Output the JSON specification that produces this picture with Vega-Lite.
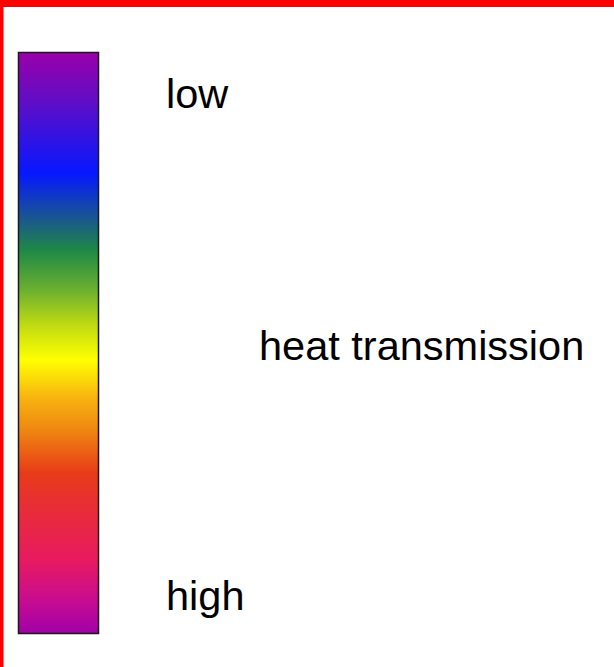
{
  "$schema": "https://vega.github.io/schema/vega-lite/v6.json",
  "autosize": "none",
  "width": 614,
  "height": 667,
  "padding": 0,
  "background": "white",
  "config": {"view": {"stroke": null}},
  "datasets": {
    "bar": [{"x": 18.5, "x2": 98.5, "y": 52.5, "y2": 633.5}],
    "labels": [
      {"label": "low", "x": 166, "y": 96},
      {"label": "heat transmission", "x": 259, "y": 348},
      {"label": "high", "x": 166, "y": 598}
    ],
    "hborder": [{"x": 0, "x2": 614, "y": 3.5}],
    "vborder": [{"x": 1.75, "y": 0, "y2": 667}]
  },
  "layer": [
    {
      "data": {"name": "bar"},
      "mark": {
        "type": "rect",
        "stroke": "#1a1a1a",
        "strokeWidth": 1.5,
        "fill": {
          "gradient": "linear",
          "x1": 0, "y1": 0, "x2": 0, "y2": 1,
          "stops": [
            {"offset": 0.0, "color": "#9a00aa"},
            {"offset": 0.09, "color": "#5c0ec8"},
            {"offset": 0.208, "color": "#0618ff"},
            {"offset": 0.29, "color": "#1a5a8a"},
            {"offset": 0.342, "color": "#1f8a44"},
            {"offset": 0.409, "color": "#6cb030"},
            {"offset": 0.471, "color": "#c2dc12"},
            {"offset": 0.529, "color": "#ffff00"},
            {"offset": 0.598, "color": "#f7b010"},
            {"offset": 0.644, "color": "#f08c10"},
            {"offset": 0.723, "color": "#e83c18"},
            {"offset": 0.77, "color": "#e83030"},
            {"offset": 0.873, "color": "#e81a60"},
            {"offset": 0.943, "color": "#c80c90"},
            {"offset": 1.0, "color": "#a000a8"}
          ]
        }
      },
      "encoding": {
        "x": {"field": "x", "type": "quantitative", "scale": {"domain": [0, 614]}, "axis": null},
        "x2": {"field": "x2"},
        "y": {"field": "y", "type": "quantitative", "scale": {"domain": [0, 667], "reverse": true}, "axis": null},
        "y2": {"field": "y2"}
      }
    },
    {
      "data": {"name": "labels"},
      "mark": {"type": "text", "align": "left", "baseline": "middle", "font": "Liberation Sans", "fontSize": 41.5, "color": "#000000"},
      "encoding": {
        "x": {"field": "x", "type": "quantitative", "scale": {"domain": [0, 614]}, "axis": null},
        "y": {"field": "y", "type": "quantitative", "scale": {"domain": [0, 667], "reverse": true}, "axis": null},
        "text": {"field": "label"}
      }
    },
    {
      "data": {"name": "hborder"},
      "mark": {"type": "rule", "color": "#ff0000", "strokeWidth": 7},
      "encoding": {
        "x": {"field": "x", "type": "quantitative", "scale": {"domain": [0, 614]}, "axis": null},
        "x2": {"field": "x2"},
        "y": {"field": "y", "type": "quantitative", "scale": {"domain": [0, 667], "reverse": true}, "axis": null}
      }
    },
    {
      "data": {"name": "vborder"},
      "mark": {"type": "rule", "color": "#ff0000", "strokeWidth": 3.5},
      "encoding": {
        "x": {"field": "x", "type": "quantitative", "scale": {"domain": [0, 614]}, "axis": null},
        "y": {"field": "y", "type": "quantitative", "scale": {"domain": [0, 667], "reverse": true}, "axis": null},
        "y2": {"field": "y2"}
      }
    }
  ]
}
